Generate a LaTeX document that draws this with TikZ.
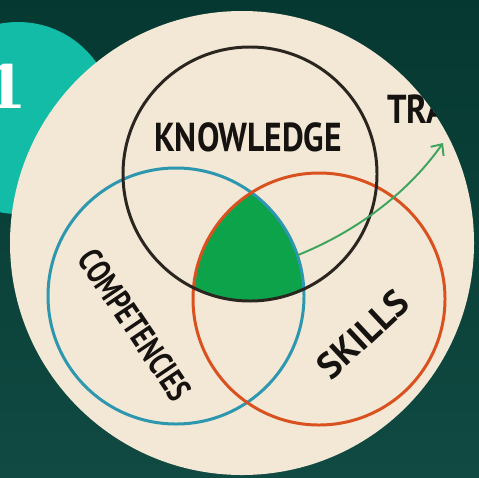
\documentclass[tikz,border=0pt]{standalone}
\usepackage{fontspec}
\setmainfont{PT Sans}
\newfontfamily\numfont{DejaVu Serif}
\usetikzlibrary{arrows.meta}
\definecolor{bgtop}{HTML}{053830}
\definecolor{bgbot}{HTML}{104A42}
\definecolor{tealdisc}{HTML}{12BCA6}
\definecolor{paper}{HTML}{F3E7D5}
\definecolor{inkblack}{HTML}{2B2520}
\definecolor{letterink}{HTML}{151210}
\definecolor{compblue}{HTML}{2C97AE}
\definecolor{skillred}{HTML}{D9511F}
\definecolor{corefill}{HTML}{0CA34B}
\definecolor{arrowgreen}{HTML}{3DA45E}
\newcommand{\squeeze}[2]{\scalebox{#1}[1]{#2}}

\begin{document}
\begin{tikzpicture}[x=0.02cm,y=-0.02cm]
\tikzstyle{every node}=[inner sep=0pt]
\tikzstyle{ring}=[line width=1.7pt]
\tikzstyle{word}=[text=letterink]
\useasboundingbox (0,0) rectangle (479,477);
\clip (0,0) rectangle (479,477);
\shade[top color=bgtop,bottom color=bgbot] (0,0) rectangle (479,477);
% badge
\fill[tealdisc] (18,118) circle (96);
\node (one) [anchor=base,text=white,font=\numfont\bfseries\fontsize{34}{34}\selectfont] at (6,108) {1};
% paper disc
\coordinate (paperc) at (242,243);
\fill[paper] (paperc) circle (232);
\coordinate (know) at (250,174);
\coordinate (comp) at (176,296);
\coordinate (skill) at (319,299);
% common part
\begin{scope}
\clip (know) circle (127);
\clip (comp) circle (128);
\fill[corefill] (skill) circle (126);
\end{scope}
\draw[ring,compblue] (comp) circle (128);
\draw[ring,skillred] (skill) circle (126);
\draw[ring,inkblack] (know) circle (127);
% labels
\node (knowl) [word,anchor=base,font=\bfseries\fontsize{23}{23}\selectfont] at (248,151) {\squeeze{0.83}{KNOWLEDGE}};
\node (compl) [word,rotate=-56,font=\bfseries\fontsize{19.5}{19.5}\selectfont] at (135,325) {\squeeze{0.75}{COMPETENCIES}};
\node (skilll) [word,rotate=43,font=\bfseries\fontsize{21}{21}\selectfont] at (363,334) {SKILLS};
\begin{scope}
\clip (paperc) circle (232);
\node (tra) [word,anchor=base west,font=\bfseries\fontsize{23}{23}\selectfont] at (387,123) {\squeeze{0.85}{TRA}};
\end{scope}
% arrow
\coordinate (arrfrom) at (298,255);
\coordinate (arrto) at (443,143);
\draw[arrowgreen,line width=1.1pt,-{Straight Barb[length=5pt,width=9pt]}] (arrfrom) .. controls (360,230) and (410,190) .. (arrto);
\end{tikzpicture}
\end{document}
